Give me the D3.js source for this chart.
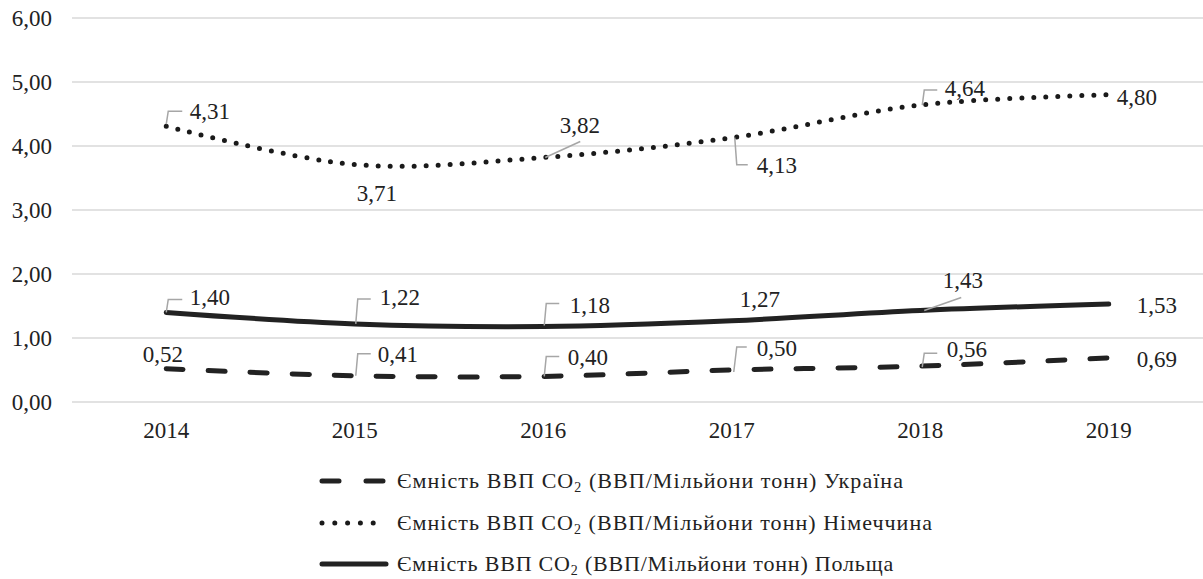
<!DOCTYPE html>
<html>
<head>
<meta charset="utf-8">
<script src="https://cdn.jsdelivr.net/npm/d3@7"></script>
<style>
  body { margin: 0; background: #fff; }
</style>
</head>
<body>
<div id="main"></div>
<script>
const years = ["2014", "2015", "2016", "2017", "2018", "2019"];
const ukraine = [0.52, 0.41, 0.40, 0.50, 0.56, 0.69];
const germany = [4.31, 3.71, 3.82, 4.13, 4.64, 4.80];
const poland = [1.40, 1.22, 1.18, 1.27, 1.43, 1.53];
const yTicks = [0, 1, 2, 3, 4, 5, 6];
const seriesNames = [
  "Україна",
  "Німеччина",
  "Польща"
];

// label placement, one per point: [dx, dy, anchor, leader points]
const ukraineLabels = [
  [-3.5, -7, "middle", null],
  [23, -14, "start", [[1, 0], [3, -22], [16, -22]]],
  [24.5, -11.5, "start", [[1, 0], [3, -20], [16, -20]]],
  [25, -14, "start", [[2, 2], [5, -23], [15, -23]]],
  [26.5, -9, "start", [[2, 1], [4, -13], [17, -13]]],
  [28, 9, "start", null]
];
const germanyLabels = [
  [23.5, -7, "start", [[0, -2], [2, -15], [16, -15]]],
  [2, 36, "start", null],
  [16.5, -24.5, "start", [[2, 0], [37, -16]]],
  [25, 35, "start", [[3, 0], [5, 27], [16, 27]]],
  [24.5, -9, "start", [[2, 0], [4, -15], [17, -15]]],
  [8, 10, "start", null]
];
const polandLabels = [
  [23.5, -7, "start", [[0, 0], [2, -13], [16, -13]]],
  [25, -19, "start", [[1, 0], [3, -25], [16, -25]]],
  [26.5, -13.5, "start", [[1, -1], [3, -23], [16, -23]]],
  [8, -14, "start", null],
  [22.5, -22.5, "start", [[4, 0], [41, -13]]],
  [28, 9, "start", null]
];

const width = 1203;
const height = 579;
const font = "'Liberation Serif', 'Times New Roman', Times, 'Nimbus Roman', 'Noto Serif', 'DejaVu Serif', FreeSerif, serif";
const numSize = 23;
const fmt = (v) => v.toFixed(2).replace(".", ",");

const svg = d3.select("#main").append("svg")
  .attr("width", width)
  .attr("height", height)
  .style("display", "block")
  .attr("font-family", font);

const x = d3.scaleBand().domain(years).range([72, 1203]);
const y = d3.scaleLinear().domain([0, 6]).range([402, 18]);
const px = (i) => x(years[i]) + x.bandwidth() / 2;

// grid
svg.append("g")
  .selectAll("line")
  .data(yTicks)
  .enter()
  .append("line")
  .attr("x1", 72)
  .attr("x2", width)
  .attr("y1", (d) => y(d))
  .attr("y2", (d) => y(d))
  .attr("stroke", "#d9d9d9")
  .attr("stroke-width", 1.5);

// y labels
svg.append("g")
  .selectAll("text")
  .data(yTicks)
  .enter()
  .append("text")
  .attr("x", 52)
  .attr("y", (d) => y(d) + 8)
  .attr("text-anchor", "end")
  .attr("font-size", numSize)
  .attr("fill", "#222")
  .text((d) => fmt(d));

// x labels
svg.append("g")
  .selectAll("text")
  .data(years)
  .enter()
  .append("text")
  .attr("x", (d, i) => px(i))
  .attr("y", 438)
  .attr("text-anchor", "middle")
  .attr("font-size", numSize)
  .attr("fill", "#222")
  .text((d) => d);

const series = [
  { name: seriesNames[0], values: ukraine, labels: ukraineLabels,
    width: 5, dash: "17 25", legendDash: "17 27", color: "#222" },
  { name: seriesNames[1], values: germany, labels: germanyLabels,
    width: 5, dash: "0 12", legendDash: "0 12.8", color: "#1a1a1a" },
  { name: seriesNames[2], values: poland, labels: polandLabels,
    width: 5, dash: null, legendDash: null, color: "#222" }
];

const line = d3.line()
  .x((d, i) => px(i))
  .y((d) => y(d))
  .curve(d3.curveCatmullRom.alpha(0));

series.forEach((s) => {
  svg.append("path")
    .datum(s.values)
    .attr("d", line)
    .attr("fill", "none")
    .attr("stroke", s.color)
    .attr("stroke-width", s.width)
    .attr("stroke-linecap", "round")
    .attr("stroke-dasharray", s.dash);
});

// data labels
series.forEach((s) => {
  const g = svg.append("g");
  s.values.forEach((v, i) => {
    const [dx, dy, anchor, leader] = s.labels[i];
    const cx = px(i);
    const cy = y(v);
    if (leader) {
      g.append("polyline")
        .attr("points", leader.map((p) => [cx + p[0], cy + p[1]].join(",")).join(" "))
        .attr("fill", "none")
        .attr("stroke", "#a6a6a6")
        .attr("stroke-width", 1.5);
    }
    g.append("text")
      .attr("x", cx + dx)
      .attr("y", cy + dy)
      .attr("text-anchor", anchor)
      .attr("font-size", numSize)
      .attr("fill", "#222")
      .text(fmt(v));
  });
});

// legend, text widened a little to the reference width
const legendY = [481, 523, 564];
const legendWidths = [507, 536, 497];
const legend = svg.append("g");
series.forEach((s, i) => {
  const row = legend.append("g").attr("transform", `translate(0,${legendY[i]})`);
  row.append("line")
    .attr("x1", 322)
    .attr("x2", 386)
    .attr("stroke", s.color)
    .attr("stroke-width", s.width)
    .attr("stroke-linecap", "round")
    .attr("stroke-dasharray", s.legendDash);
  const t = row.append("text")
    .attr("x", 397)
    .attr("y", 7)
    .attr("font-size", 22)
    .attr("fill", "#222");
  t.append("tspan").text("Ємність ВВП CO");
  t.append("tspan").attr("font-size", 14).attr("dy", 4).text("2");
  t.append("tspan").attr("dy", -4).text(` (ВВП/Мільйони тонн) ${s.name}`);
  const natural = t.node().getComputedTextLength();
  const chars = t.text().length;
  t.attr("letter-spacing", Math.max(0, (legendWidths[i] - natural) / chars));
});
</script>
</body>
</html>
